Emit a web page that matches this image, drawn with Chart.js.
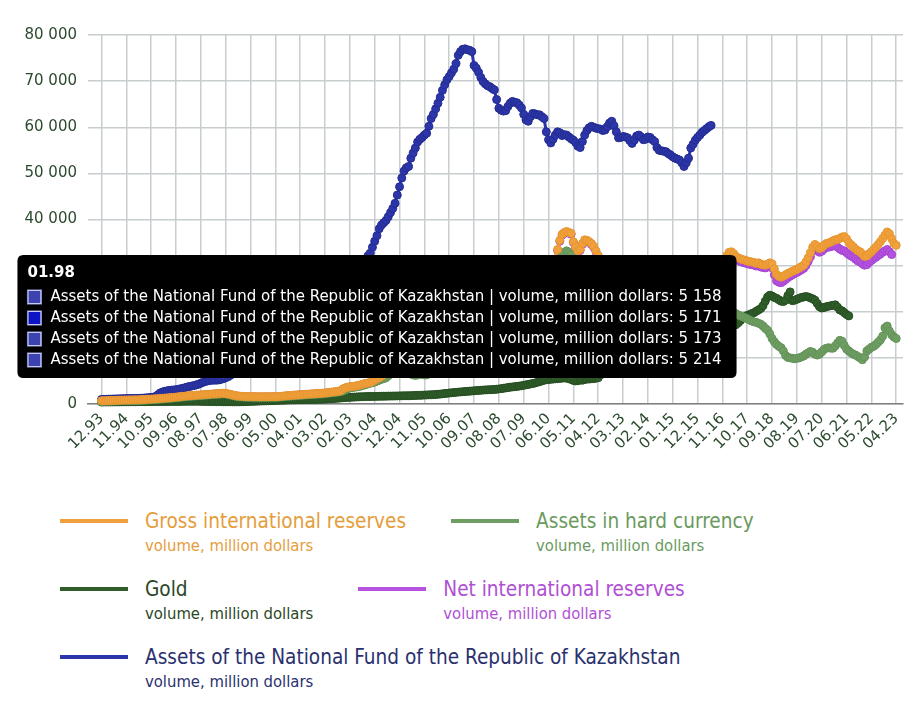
<!DOCTYPE html>
<html lang="en">
<head>
  <meta charset="UTF-8">
  <title>Kazakhstan reserves</title>
  <script src="https://cdn.jsdelivr.net/npm/chart.js"></script>
  <style>
    body {
      margin: 0;
      background: #fff;
      font-family: "DejaVu Sans", sans-serif;
    }
    .wrap {
      position: relative;
      width: 919px;
      height: 470px;
    }
    #legend {
      display: flex;
      flex-wrap: wrap;
      box-sizing: border-box;
      width: 919px;
      padding-left: 60px;
      margin-top: 39px;
    }
    .item {
      display: flex;
      align-items: flex-start;
      margin-right: 45px;
      margin-bottom: 21px;
    }
    .swatch {
      display: block;
      width: 68px;
      height: 4px;
      margin-top: 10px;
      margin-right: 17px;
    }
    .name {
      font-family: "DejaVu Sans Condensed", "DejaVu Sans", sans-serif;
      font-stretch: condensed;
      font-size: 20.6px;
      line-height: 24px;
    }
    .unit {
      font-family: "DejaVu Sans Condensed", "DejaVu Sans", sans-serif;
      font-stretch: condensed;
      font-size: 16.5px;
      line-height: 20px;
      margin-top: 3px;
    }
  </style>
</head>
<body>
  <div class="wrap"><canvas id="chart"></canvas></div>
  <div id="legend"></div>

  <script>
    // monthly values, million dollars, first month is 12.93
    const tickStep = 11;
    const tickLabels = ['12.93', '11.94', '10.95', '09.96', '08.97', '07.98', '06.99', '05.00', '04.01', '03.02', '02.03',
      '01.04', '12.04', '11.05', '10.06', '09.07', '08.08', '07.09', '06.10', '05.11', '04.12', '03.13', '02.14',
      '01.15', '12.15', '11.16', '10.17', '09.18', '08.19', '07.20', '06.21', '05.22', '04.23'];

    const grossReserves = [
      700, 710, 730, 750, 760, 780, 800, 810, 830, 850, 860, 870,
      880, 890, 890, 900, 900, 920, 950, 980, 1010, 1040, 1070, 1100,
      1130, 1160, 1200, 1240, 1280, 1320, 1360, 1410, 1450, 1500, 1560, 1610,
      1660, 1710, 1770, 1800, 1840, 1880, 1910, 1950, 1980, 2010, 2060, 2090,
      2130, 2170, 2200, 2240, 2280, 2310, 2330, 2290, 2200, 2100, 1980, 1860,
      1770, 1720, 1680, 1650, 1630, 1610, 1600, 1590, 1590, 1580, 1570, 1580,
      1590, 1590, 1580, 1590, 1600, 1590, 1620, 1660, 1700, 1750, 1800, 1840,
      1880, 1910, 1950, 1990, 2020, 2060, 2100, 2130, 2160, 2190, 2220, 2260,
      2290, 2310, 2350, 2400, 2460, 2520, 2580, 2640, 2700, 2780, 2900, 3300,
      3500, 3650, 3750, 3800, 3850, 3950, 4050, 4200, 4350, 4450, 4550, 4650,
      4900, 5200, 5450, 5700, 6000, 6400, 6800, 7200, 7700, 8200, 8700, 9000,
      9300, 8900, 8400, 8000, 7600, 7300, 7100, 7000, 7100, 7300, 7200, 7100,
      7070, 7500, 8200, 9500, 11000, 12500, 13800, 15000, 16200, 17200, 18200, 18800,
      19100, 19500, 20500, 21600, 22000, 21400, 19800, 17900, 16800, 16500, 17000, 17300,
      17600, 18000, 18500, 19200, 20000, 20800, 21500, 21800, 21000, 20300, 19800, 19600,
      19900, 19200, 18800, 19500, 20800, 21800, 22400, 22800, 23100, 22900, 23000, 23100,
      23200, 24500, 25800, 26400, 27000, 27600, 28200, 29000, 30000, 31500, 33500, 35500,
      36800, 37200, 37400, 37200, 37000, 35200, 34000, 33200, 33500, 34800, 35600, 35500,
      35200, 34800, 34200, 33200, 32200, 30900, 30000, 29500, 29000, 28700, 28500, 28400,
      28300, 27800, 27000, 26500, 26000, 25600, 25200, 24900, 24800, 24700, 24600, 24600,
      24700, 24900, 25300, 24600, 23800, 23500, 24000, 25500, 27000, 28500, 29000, 29200,
      29200, 28600, 28000, 27700, 27400, 27100, 27500, 27800, 28000, 27900, 28200, 27900,
      27900, 28400, 28900, 29300, 29600, 29700, 29900, 30000, 29800, 29700, 29800, 30300,
      31000, 32200, 32900, 33000, 32600, 32000, 31700, 31500, 31300, 31200, 31000, 30900,
      30800, 30700, 30500, 30600, 30300, 30200, 30100, 30300, 30600, 30400, 29300, 28100,
      27700, 27500, 27700, 28000, 28300, 28500, 28800, 29000, 29200, 29500, 29800, 30100,
      30800, 31700, 32800, 34000, 34600, 34200, 33700, 33900, 34400, 34800, 34900, 35100,
      35400, 35600, 35700, 35900, 36200, 36300, 35800, 35000, 34500, 34100, 33600, 33200,
      33000, 32500, 32000, 32100, 32600, 33000, 33500, 34000, 34600, 35200, 35900, 36600,
      37300, 36900, 35800, 34800, 34400
    ];

    const hardCurrency = [
      560, 570, 590, 610, 620, 640, 660, 670, 690, 710, 720, 730,
      740, 750, 750, 760, 760, 780, 810, 840, 870, 900, 930, 960,
      990, 1020, 1060, 1100, 1140, 1180, 1220, 1270, 1310, 1360, 1420, 1470,
      1520, 1570, 1630, 1660, 1700, 1740, 1770, 1810, 1840, 1870, 1920, 1950,
      1990, 2030, 2060, 2100, 2140, 2170, 2190, 2150, 2060, 1960, 1840, 1720,
      1630, 1580, 1540, 1510, 1490, 1470, 1460, 1450, 1450, 1440, 1430, 1440,
      1450, 1450, 1440, 1450, 1460, 1450, 1480, 1520, 1560, 1610, 1660, 1700,
      1740, 1770, 1810, 1850, 1880, 1920, 1960, 1990, 2020, 2050, 2080, 2120,
      2150, 2170, 2210, 2260, 2320, 2380, 2440, 2500, 2560, 2620, 2700, 2850,
      3100, 3300, 3450, 3550, 3620, 3700, 3800, 3900, 4050, 4200, 4350, 4500,
      4600, 4750, 4950, 5150, 5350, 5500, 5700, 6100, 6500, 7000, 7500, 7900,
      8300, 8000, 7500, 7100, 6800, 6500, 6300, 6200, 6300, 6500, 6400, 6300,
      6300, 6700, 7400, 8700, 10100, 11600, 12800, 14000, 15200, 16100, 17100, 17700,
      17900, 18300, 19200, 20200, 20600, 20000, 18400, 16500, 15400, 15100, 15600, 15900,
      16100, 16500, 16900, 17600, 18300, 19100, 19700, 19900, 19000, 18300, 17800, 17500,
      17700, 16900, 16400, 17000, 18200, 19100, 19600, 19800, 20000, 19700, 19700, 19700,
      19700, 20900, 22000, 22500, 22900, 23400, 23900, 24500, 25400, 27600, 29500, 31300,
      32300, 32900, 33200, 32900, 32400, 30100, 28800, 28100, 28200, 29500, 30300, 30000,
      29800, 29400, 28800, 28000, 27000, 26000, 25300, 24900, 24500, 24200, 24000, 23900,
      23800, 23400, 22800, 22400, 22000, 21600, 21300, 21000, 20900, 20800, 20700, 20700,
      20700, 20800, 21100, 20500, 19800, 19500, 19900, 21200, 22500, 23700, 24100, 24200,
      24100, 23500, 22900, 22500, 22100, 21700, 21900, 22000, 22100, 21900, 22000, 21600,
      21500, 21700, 22000, 22200, 22300, 22200, 22200, 22100, 21800, 21500, 21400, 21300,
      21000, 20800, 20400, 20100, 19800, 19600, 19300, 19100, 18900, 18700, 18500, 18200,
      18000, 17800, 17700, 17500, 17300, 16900, 16400, 16000, 15200, 14200, 13500, 12900,
      12500, 12200, 11500, 10500, 10100, 10000, 9900, 9800, 9900, 10000, 10200, 10400,
      10800, 11100, 11400, 11200, 10800, 10600, 10800, 11300, 11800, 12100, 12200, 12100,
      12100, 12600, 13200, 13800, 13600, 12700, 11900, 11500, 11100, 10800, 10600, 10300,
      10000, 9600, 10200, 11500, 11900, 12300, 12500, 12900, 13400, 13900, 14700, 16500,
      16900, 15800, 15000, 14500, 14200
    ];

    const gold = [
      420, 430, 430, 440, 440, 450, 450, 460, 460, 470, 470, 480,
      480, 490, 490, 500, 500, 500, 510, 510, 510, 520, 520, 520,
      520, 530, 530, 540, 540, 540, 550, 550, 560, 560, 560, 560,
      570, 570, 580, 580, 580, 590, 590, 580, 570, 560, 550, 540,
      530, 520, 520, 510, 500, 500, 490, 490, 480, 480, 470, 470,
      470, 480, 490, 500, 520, 540, 560, 580, 600, 620, 640, 650,
      660, 680, 700, 720, 740, 760, 780, 800, 820, 840, 860, 880,
      900, 910, 920, 930, 940, 950, 960, 970, 980, 990, 1000, 1000,
      1010, 1020, 1040, 1060, 1090, 1120, 1150, 1190, 1230, 1270, 1310, 1350,
      1390, 1420, 1450, 1480, 1500, 1530, 1550, 1570, 1590, 1610, 1620, 1630,
      1640, 1650, 1660, 1670, 1680, 1690, 1700, 1710, 1720, 1730, 1740, 1750,
      1760, 1770, 1780, 1790, 1800, 1810, 1830, 1850, 1870, 1890, 1910, 1940,
      1960, 1980, 2000, 2030, 2070, 2110, 2150, 2200, 2260, 2320, 2380, 2430,
      2480, 2530, 2580, 2620, 2660, 2700, 2740, 2780, 2820, 2860, 2900, 2940,
      2980, 3020, 3050, 3080, 3100, 3120, 3150, 3200, 3260, 3330, 3400, 3480,
      3560, 3640, 3700, 3760, 3820, 3880, 3950, 4050, 4150, 4250, 4350, 4450,
      4550, 4700, 4850, 5000, 5150, 5250, 5300, 5350, 5400, 5450, 5500, 5550,
      5600, 5650, 5600, 5500, 5300, 5100, 5000, 5050, 5200, 5150, 5300, 5400,
      5400, 5500, 5500, 5600, 5700, 6300, 6900, 7200, 7400, 7500, 7600, 7600,
      7600, 7700, 7600, 7400, 7200, 7000, 6900, 7000, 7100, 7300, 7500, 7700,
      7900, 8100, 8300, 8500, 8700, 8900, 9100, 9300, 9500, 9700, 9800, 9900,
      10000, 10100, 10200, 10300, 10500, 10700, 11000, 11300, 11600, 11900, 12200, 12500,
      12800, 13100, 13400, 13700, 14000, 14300, 14600, 14900, 15200, 15500, 15800, 16100,
      16200, 16500, 16800, 17000, 17100, 17200, 17600, 18100, 18600, 18900, 19200, 19400,
      19600, 19800, 20100, 20400, 20700, 21300, 22300, 23200, 23600, 23400, 23100, 22900,
      22600, 22300, 22200, 22500, 23500, 24300, 22400, 22500, 22700, 22900, 23100, 23200,
      23300, 23200, 23000, 22800, 22500, 21800, 21100, 20800, 20900, 21100, 21200, 21300,
      21400, 21500, 21000, 20400, 20200, 19800, 19400, 19100
    ];

    const netReserves = [
      650, 660, 680, 700, 710, 730, 750, 760, 780, 800, 810, 820,
      830, 840, 840, 850, 850, 870, 900, 930, 960, 990, 1020, 1050,
      1080, 1110, 1150, 1190, 1230, 1270, 1310, 1360, 1400, 1450, 1510, 1560,
      1610, 1660, 1720, 1750, 1790, 1830, 1860, 1900, 1930, 1960, 2010, 2040,
      2080, 2120, 2150, 2190, 2230, 2260, 2280, 2240, 2150, 2050, 1930, 1810,
      1720, 1670, 1630, 1600, 1580, 1560, 1550, 1540, 1540, 1530, 1520, 1530,
      1540, 1540, 1530, 1540, 1550, 1540, 1570, 1610, 1650, 1700, 1750, 1790,
      1830, 1860, 1900, 1940, 1970, 2010, 2050, 2080, 2110, 2140, 2170, 2210,
      2240, 2260, 2300, 2350, 2410, 2470, 2530, 2590, 2650, 2730, 2850, 3250,
      3450, 3600, 3700, 3750, 3800, 3900, 4000, 4150, 4300, 4400, 4500, 4600,
      4850, 5150, 5400, 5650, 5950, 6350, 6750, 7150, 7650, 8150, 8650, 8950,
      9250, 8850, 8350, 7950, 7550, 7250, 7050, 6950, 7050, 7250, 7150, 7050,
      7020, 7450, 8150, 9450, 10950, 12450, 13750, 14950, 16150, 17150, 18150, 18750,
      19000, 19400, 20400, 21500, 21900, 21300, 19700, 17800, 16700, 16400, 16900, 17200,
      17500, 17900, 18400, 19100, 19900, 20700, 21400, 21700, 20900, 20200, 19700, 19500,
      19800, 19100, 18700, 19400, 20700, 21700, 22300, 22700, 23000, 22800, 22900, 23000,
      23100, 24400, 25700, 26300, 26900, 27500, 28100, 28900, 29900, 31300, 33300, 35300,
      36600, 37000, 37200, 37000, 36800, 35000, 33800, 33000, 33300, 34600, 35400, 35300,
      35000, 34600, 34000, 33000, 32000, 30700, 29800, 29300, 28800, 28500, 28300, 28200,
      28100, 27600, 26800, 26300, 25800, 25400, 25000, 24700, 24600, 24500, 24400, 24400,
      24500, 24700, 25100, 24400, 23600, 23300, 23800, 25300, 26800, 28300, 28800, 29000,
      29000, 28400, 27800, 27500, 27200, 26900, 27300, 27600, 27800, 27700, 28000, 27700,
      27700, 28200, 28700, 29100, 29400, 29500, 29700, 29800, 29600, 29500, 29600, 30100,
      30600, 31800, 32400, 32400, 32000, 31400, 31100, 30900, 30700, 30600, 30400, 30300,
      30200, 30100, 29900, 30000, 29700, 29600, 29500, 29700, 29900, 29500, 28000, 26700,
      26400, 26300, 26600, 27000, 27400, 27700, 28000, 28300, 28500, 28800, 29100, 29400,
      30000, 30900, 31900, 33100, 33800, 33400, 32900, 33100, 33600, 34000, 34000, 34100,
      34300, 34300, 34000, 33600, 33300, 33200, 32800, 32400, 32100, 31800, 31400, 31000,
      30800, 30400, 30100, 30200, 30700, 31100, 31500, 31800, 32200, 32500, 32900, 33200,
      33500, 33000, 32400
    ];

    const nationalFund = [
      1000, 1010, 1030, 1050, 1060, 1080, 1100, 1110, 1130, 1150, 1160, 1180,
      1190, 1200, 1200, 1210, 1220, 1240, 1270, 1300, 1340, 1380, 1430, 1500,
      1600, 2000, 2400, 2600, 2750, 2850, 2950, 3000, 3050, 3100, 3200, 3300,
      3400, 3550, 3700, 3800, 3900, 4000, 4150, 4300, 4500, 4700, 4900, 5000,
      5100, 5158, 5171, 5173, 5214, 5350, 5500, 5700, 5900, 6200, 6600, 7000,
      7300, 7700, 8300, 8800, 9500, 10100, 10600, 11500, 12300, 12800, 13600, 14100,
      14600, 15300, 16100, 16600, 17400, 18100, 18500, 19300, 20100, 20700, 21000, 21500,
      22400, 23100, 23600, 24500, 25300, 26100, 26800, 27300, 27600, 27400, 26800, 26100,
      25200, 24500, 24100, 23800, 24100, 24600, 25200, 25900, 26500, 27200, 27700, 28300,
      28600, 29000, 29400, 29800, 30100, 30300, 30600, 30900, 31200, 31500,
      32100, 32700, 34000, 35300, 36500, 38000, 38800, 39300, 39800, 40600, 41500, 42400,
      43500, 45300, 47100, 49000, 50500, 51200, 51500, 53300, 54400, 55500, 56800, 57400,
      57800, 58300, 58700, 60200, 61900, 62800, 64000, 65200, 66500, 68000, 69200, 70300,
      71000, 71800, 72600, 73800, 75600, 76400, 76900, 77000, 76800, 76700, 76400, 73400,
      72800, 71900, 70800, 69900, 69400, 69000, 68800, 68400, 68100, 66000, 64100, 63700,
      63500, 63600, 64500, 65200, 65600, 65400, 65300, 64800, 64200, 62800, 61600, 61300,
      62300, 63000, 62900, 62700, 62700, 62300, 61900, 59000, 57300, 56600, 57400, 58300,
      59000, 58800, 58200, 58400, 58300, 57900, 57500, 57200, 56700, 55900, 55600, 56900,
      58300, 59300, 59900, 60200, 60000, 59800, 59700, 59600, 59300, 59400, 60100, 60900,
      61300, 60300, 59000, 57700, 57800, 58000, 57900, 57700, 57100, 56500, 57200, 58100,
      58300, 57900, 57300, 57400, 57900, 57800, 57300, 56900, 55600, 55000, 54900, 54800,
      54700, 54300, 54000, 53600, 53300, 53100, 52900, 52300, 51500, 52300, 53300, 55500,
      56300, 57200, 57800, 58300, 58900, 59300, 59700, 60100, 60400
    ];

    // the tooltip that is open in the picture: 01.98, four fund points
    const shownPoints = [49, 50, 51, 52];
    const shownBoxColors = ['#3c42b0', '#0d14c4', '#3c42b0', '#3c42b0'];

    const unit = 'volume, million dollars';
    const font = '"DejaVu Sans", sans-serif';

    function monthLabel(i) {
      const m = (11 + i) % 12 + 1;
      const y = (1993 + Math.floor((11 + i) / 12)) % 100;
      return String(m).padStart(2, '0') + '.' + String(y).padStart(2, '0');
    }

    function spaced(v) {
      return String(Math.round(v)).replace(/\B(?=(\d{3})+(?!\d))/g, ' ');
    }

    function series(label, values, color, edge, textColor) {
      return {
        label: label,
        unit: unit,
        legendColor: textColor,
        data: values.map((v, i) => ({ x: i, y: v })),
        borderColor: color,
        backgroundColor: color,
        borderWidth: 3,
        pointRadius: 4,
        pointBorderWidth: 1,
        pointBorderColor: edge,
        pointBackgroundColor: color,
        tension: 0,
        clip: 8
      };
    }

    const tooltipPlugin = Chart.registry.getPlugin('tooltip');
    tooltipPlugin.positioners.pinned = function () {
      return { x: 377, y: 378 };
    };

    Chart.defaults.font.family = font;

    const chart = new Chart(document.getElementById('chart'), {
      type: 'line',
      data: {
        datasets: [
          series('Gross international reserves', grossReserves, '#f0a03c', '#e8962f', '#e59d3c'),
          series('Assets in hard currency', hardCurrency, '#6f9e62', '#64935a', '#6b9a5e'),
          series('Gold', gold, '#2f5e29', '#284f23', '#2b4726'),
          series('Net international reserves', netReserves, '#b552e0', '#a646d2', '#b04fd4'),
          series('Assets of the National Fund of the Republic of Kazakhstan', nationalFund, '#2c36aa', '#232c8f', '#2a316e')
        ]
      },
      options: {
        responsive: true,
        maintainAspectRatio: false,
        animation: false,
        events: [],
        layout: { padding: { top: 35, right: 16, left: 0, bottom: 0 } },
        scales: {
          x: {
            type: 'linear',
            min: -6,
            max: 355,
            afterBuildTicks: axis => {
              axis.ticks = tickLabels.map((_, k) => ({ value: k * tickStep }));
            },
            afterFit: axis => { axis.height = 66; },
            grid: { color: '#c8cdd0', lineWidth: 1.5, drawTicks: false },
            border: { display: true, color: '#808080', width: 1.5 },
            ticks: {
              autoSkip: false,
              minRotation: 45,
              maxRotation: 45,
              padding: 6,
              color: '#2b4a2e',
              font: { size: 15 },
              callback: (value, index) => tickLabels[index]
            }
          },
          y: {
            min: 0,
            max: 80000,
            afterFit: axis => { axis.width = 88; },
            grid: { color: '#c8cdd0', lineWidth: 1.5, drawTicks: false },
            border: { display: false },
            ticks: {
              stepSize: 10000,
              padding: 11,
              color: '#2b4a2e',
              font: { size: 15 },
              callback: v => spaced(v)
            }
          }
        },
        plugins: {
          legend: { display: false },
          tooltip: {
            position: 'pinned',
            animation: false,
            xAlign: 'center',
            yAlign: 'bottom',
            caretSize: 0,
            caretPadding: 0,
            backgroundColor: '#000',
            cornerRadius: 6,
            padding: { top: 9, bottom: 9, left: 10, right: 15 },
            titleColor: '#fff',
            bodyColor: '#fff',
            titleFont: { family: font, size: 15, weight: 'bold' },
            bodyFont: { family: font, size: 15 },
            titleMarginBottom: 6,
            bodySpacing: 3,
            boxWidth: 14,
            boxHeight: 14,
            boxPadding: 7,
            callbacks: {
              title: items => monthLabel(items[0].parsed.x),
              label: item => item.dataset.label + ' | ' + item.dataset.unit + ': ' + spaced(item.parsed.y),
              labelColor: item => ({
                borderColor: '#9096d8',
                backgroundColor: shownBoxColors[shownPoints.indexOf(item.dataIndex)] || '#3c42b0',
                borderWidth: 1
              })
            }
          }
        }
      }
    });

    chart.tooltip.setActiveElements(
      shownPoints.map(i => ({ datasetIndex: 4, index: i })),
      { x: 377, y: 378 }
    );
    chart.update();

    // legend with the unit line under each name
    const legendBox = document.getElementById('legend');
    chart.data.datasets.forEach(ds => {
      const item = document.createElement('div');
      item.className = 'item';
      item.innerHTML =
        '<span class="swatch" style="background:' + ds.borderColor + '"></span>' +
        '<div><div class="name" style="color:' + ds.legendColor + '">' + ds.label + '</div>' +
        '<div class="unit" style="color:' + ds.legendColor + '">' + ds.unit + '</div></div>';
      legendBox.appendChild(item);
    });
  </script>
</body>
</html>
